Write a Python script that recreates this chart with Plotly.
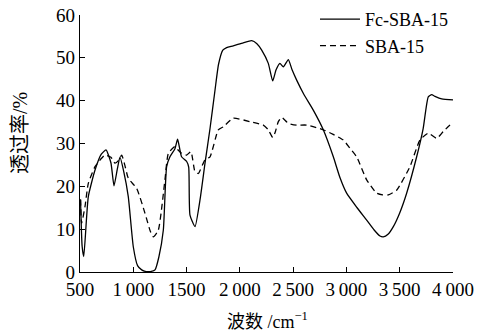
import plotly.graph_objects as go

# Fc-SBA-15 (solid)
fc_x = [505, 520, 535, 578, 641, 700, 744, 790, 819, 850, 875, 910, 953, 1000, 1040, 1079,
        1120, 1160, 1204, 1240, 1282, 1313, 1344, 1391, 1416, 1453, 1501, 1520, 1532, 1579,
        1630, 1673, 1720, 1767, 1800, 1840, 1876, 1938, 2032, 2111, 2160, 2205, 2267, 2308,
        2340, 2376, 2408, 2455, 2490, 2533, 2600, 2689, 2783, 2877, 2940, 3002, 3100, 3190,
        3260, 3315, 3346, 3390, 3440, 3500, 3565, 3659, 3720, 3768, 3800, 3831, 3894, 4000]
fc_y = [16.8, 6.0, 3.6, 17.6, 23.8, 27.5, 28.5, 25.5, 20.1, 24.0, 26.8, 23.5, 17.6, 5.9, 1.5, 0.5,
        0.1, 0.1, 0.5, 3.5, 9.8, 24.6, 26.9, 28.8, 31.0, 26.9, 25.8, 24.5, 13.3, 10.6,
        17.5, 25.4, 33.5, 42.5, 48.5, 51.8, 52.4, 52.8, 53.5, 54.0, 53.3, 51.8, 48.7, 44.6,
        47.2, 48.7, 47.9, 49.6, 47.2, 44.8, 41.5, 37.8, 33.2, 26.9, 22.0, 18.4, 15.0, 12.1,
        9.8, 8.4, 8.2, 8.8, 10.6, 13.8, 18.4, 26.9, 33.5, 40.9, 41.4, 41.0, 40.4, 40.2]

# SBA-15 (dashed)
sba_x = [505, 515, 547, 578, 641, 700, 734, 790, 828, 860, 891, 920, 953, 1032, 1110, 1160,
         1188, 1235, 1297, 1329, 1391, 1420, 1453, 1501, 1541, 1579, 1610, 1673, 1720, 1798,
         1845, 1938, 2095, 2220, 2267, 2308, 2330, 2361, 2392, 2455, 2533, 2627, 2783, 2871,
         2971, 3030, 3096, 3190, 3284, 3340, 3393, 3471, 3596, 3690, 3768, 3847, 3909, 3972, 4000]
sba_y = [17.0, 11.4, 15.3, 20.7, 24.6, 26.5, 27.3, 26.8, 25.4, 26.0, 27.3, 25.0, 21.9, 19.5, 13.7, 9.5,
         8.2, 9.8, 21.5, 27.7, 29.3, 28.5, 27.7, 27.3, 28.1, 23.4, 23.0, 26.2, 26.9, 33.2,
         33.9, 35.9, 35.1, 34.3, 33.2, 31.4, 32.5, 35.1, 36.1, 34.7, 34.3, 34.3, 33.2, 32.2,
         30.8, 29.0, 26.9, 21.5, 18.4, 18.0, 18.0, 19.1, 24.6, 30.8, 32.4, 31.2, 32.8, 34.3, 34.6]

x_ticks = [500, 1000, 1500, 2000, 2500, 3000, 3500, 4000]
x_tick_labels = ["500", "1\u2009000", "1500", "2\u2009000", "2\u2009500", "3\u2009000", "3\u2009500", "4\u2009000"]
y_ticks = [0, 10, 20, 30, 40, 50, 60]

font_family = "Liberation Serif, Times New Roman, Noto Sans CJK SC, serif"

W, H = 487, 331
ML, MR, MT, MB = 80, 34, 5, 59
plot_h = H - MT - MB          # 267
y_dom_top = (H - MB - 15) / plot_h   # y=60 at pixel 15

fig = go.Figure()
fig.add_trace(go.Scatter(x=fc_x, y=fc_y, mode="lines", name="Fc-SBA-15",
                         line=dict(color="black", width=1.3, shape="spline", smoothing=0.5)))
fig.add_trace(go.Scatter(x=sba_x, y=sba_y, mode="lines", name="SBA-15",
                         line=dict(color="black", width=1.3, dash="6px,4px", shape="spline", smoothing=0.5)))

fig.update_layout(
    width=W, height=H,
    margin=dict(l=ML, r=MR, t=MT, b=MB, autoexpand=False),
    paper_bgcolor="white", plot_bgcolor="white",
    font=dict(family=font_family, size=19, color="black"),
    showlegend=True,
    legend=dict(x=0.63, y=(H - MB - 1) / plot_h, xanchor="left", yanchor="top",
                bgcolor="rgba(255,255,255,0)", font=dict(size=18),
                itemwidth=40, tracegroupgap=0),
    xaxis=dict(range=[500, 4000], tickvals=x_ticks, ticktext=x_tick_labels,
               showline=True, linecolor="black", linewidth=1.2, automargin=False,
               ticks="inside", ticklen=5, tickcolor="black", showgrid=False, zeroline=False,
               tickfont=dict(size=19)),
    yaxis=dict(range=[0, 60], tickvals=y_ticks, domain=[0, y_dom_top],
               showline=True, linecolor="black", linewidth=1.2, automargin=False,
               ticks="inside", ticklen=5, tickcolor="black", showgrid=False, zeroline=False,
               tickfont=dict(size=19)),
    annotations=[
        dict(text="波数 /cm<sup>−1</sup>", xref="paper", yref="paper",
             x=(267 - ML) / (W - ML - MR), y=-(320 - (H - MB)) / plot_h,
             xanchor="center", yanchor="middle", showarrow=False, font=dict(size=18)),
        dict(text="透过率/%", xref="paper", yref="paper",
             x=-(ML - 20) / (W - ML - MR), y=((H - MB) - 133) / plot_h,
             xanchor="center", yanchor="middle", showarrow=False, textangle=-90,
             font=dict(size=20)),
    ],
)

fig.write_html("out.html", config={"displayModeBar": False},
               post_script="document.body.style.margin='0';document.body.style.overflow='hidden';")
